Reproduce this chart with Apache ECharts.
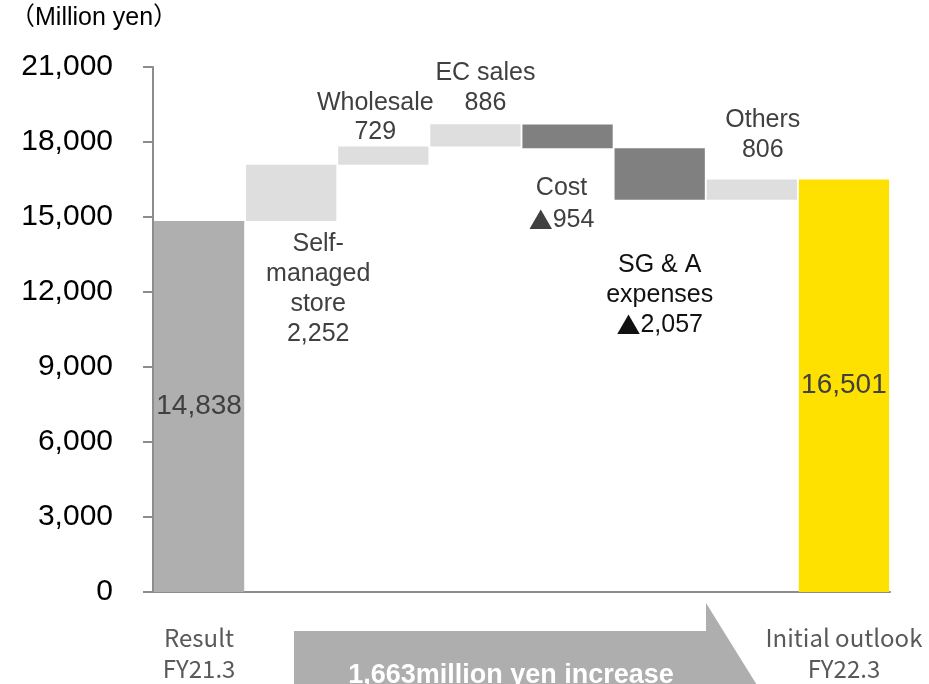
<!DOCTYPE html>
<html>
<head>
<meta charset="utf-8">
<script src="https://cdn.jsdelivr.net/npm/echarts@6/dist/echarts.min.js"></script>
<style>
html,body{margin:0;padding:0;background:#fff;}
#c{width:929px;height:684px;}
</style>
</head>
<body>
<div id="c"></div>
<script>
// ---- data ----
const categories = ['Result FY21.3', 'Self-managed store', 'Wholesale', 'EC sales', 'Cost', 'SG & A expenses', 'Others', 'Initial outlook FY22.3'];
const startValue = 14838;
const changes = [2252, 729, 886, -954, -2057, 806];
const endValue = 16501;
const changeLabels = ['Self-\nmanaged\nstore\n2,252', 'Wholesale\n729', 'EC sales\n886', 'Cost\n▲954', 'SG & A\nexpenses\n▲2,057', 'Others\n806'];
const startLabel = '14,838';
const endLabel = '16,501';
const xTickLabels = ['Result\nFY21.3', '', '', '', '', '', '', 'Initial outlook\nFY22.3'];
const arrowText = '1,663million yen increase';

// ---- build waterfall ----
const FONT = '"Liberation Sans", Arial, sans-serif';
const baseData = [0];
const barData = [];
barData.push({ value: startValue, itemStyle: { color: '#afafaf' },
  label: { show: true, position: 'inside', formatter: startLabel, fontSize: 28, color: '#404040', fontFamily: FONT } });
let running = startValue;
// label placement per change bar (style only)
const labelPlace = [
  { position: 'bottom', distance: 8, lineHeight: 30, color: '#404040', dx: 27 },
  { position: 'top', distance: 0, lineHeight: 29, color: '#404040', dx: -8 },
  { position: 'top', distance: 6, lineHeight: 30, color: '#404040', dx: 10 },
  { position: 'bottom', distance: 24, lineHeight: 32, color: '#404040', dx: -6 },
  { position: 'bottom', distance: 50, lineHeight: 30, color: '#111111', dx: 0 },
  { position: 'top', distance: 14, lineHeight: 30, color: '#404040', dx: 11 }
];
changes.forEach((d, i) => {
  const lo = d >= 0 ? running : running + d;
  baseData.push(lo);
  const lp = labelPlace[i];
  const txt = changeLabels[i].replace(/▲/g, '{tri|▲}');
  barData.push({ value: Math.abs(d), itemStyle: { color: d >= 0 ? '#dedede' : '#808080' },
    label: { show: true, position: lp.position, distance: lp.distance, lineHeight: lp.lineHeight, offset: [lp.dx, 0],
      formatter: txt, fontSize: 25, color: lp.color, align: 'center', fontFamily: FONT,
      rich: { tri: { fontFamily: '"Noto Sans CJK JP", sans-serif', fontSize: 24, color: lp.color, lineHeight: lp.lineHeight } } } });
  running += d;
});
baseData.push(0);
barData.push({ value: endValue, itemStyle: { color: '#ffe100' },
  label: { show: true, position: 'inside', formatter: endLabel, fontSize: 28, color: '#404040', fontFamily: FONT } });

const chart = echarts.init(document.getElementById('c'), null, { renderer: 'canvas' });
chart.setOption({
  animation: false,
  grid: { left: 153, right: 39, top: 67, bottom: 91, containLabel: false },
  xAxis: {
    type: 'category', data: categories,
    axisLine: { lineStyle: { color: '#8c8c8c', width: 2 } },
    axisTick: { show: false },
    axisLabel: { interval: 0, margin: 30, lineHeight: 31, fontSize: 24, color: '#595959',
      fontFamily: '"Noto Sans CJK JP", sans-serif',
      formatter: (v, i) => xTickLabels[i] }
  },
  yAxis: {
    type: 'value', min: 0, max: 21000, interval: 3000,
    axisLine: { show: true, lineStyle: { color: '#8c8c8c', width: 2 } },
    axisTick: { show: true, length: 10, lineStyle: { color: '#8c8c8c', width: 2 } },
    splitLine: { show: false },
    axisLabel: { margin: 40, fontSize: 30, color: '#000', fontFamily: FONT,
      formatter: v => v.toLocaleString('en-US') }
  },
  graphic: [
    { type: 'text', left: 10, top: 6, style: { text: '（Million yen）', fill: '#000',
      font: '25px "Liberation Sans", "Noto Sans CJK JP", sans-serif' } },
    { type: 'polygon', shape: { points: [[294, 631], [706, 631], [706, 603], [760, 690], [706, 777], [706, 749], [294, 749]] },
      style: { fill: '#aeaeae' }, z: 1 },
    { type: 'text', x: 511, y: 676, style: { text: arrowText, fill: '#ffffff', align: 'center', verticalAlign: 'middle',
      font: 'bold 27px "Liberation Sans", Arial, sans-serif' }, z: 2 }
  ],
  series: [
    { type: 'bar', stack: 'w', data: baseData, itemStyle: { color: 'transparent' }, silent: true, barCategoryGap: '2%' },
    { type: 'bar', stack: 'w', data: barData, barCategoryGap: '2%' }
  ]
});
</script>
</body>
</html>
